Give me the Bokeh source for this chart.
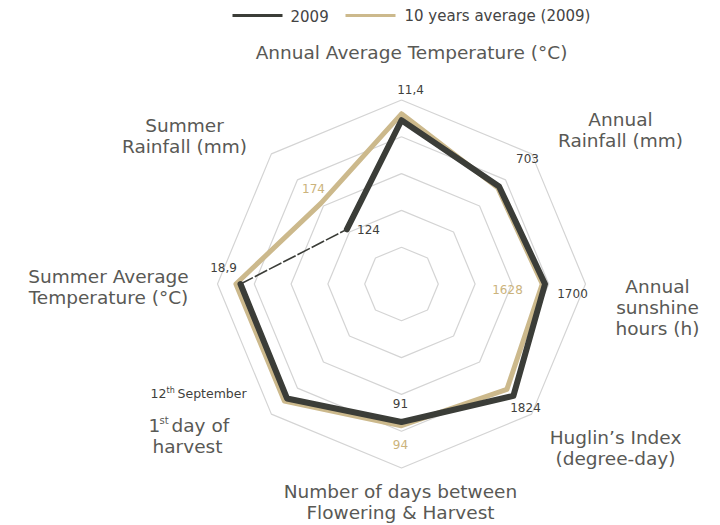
import math
from bokeh.plotting import figure
from bokeh.models import Range1d
from bokeh.core.properties import value
from bokeh.embed import file_html
from bokeh.resources import INLINE

# ---------------- data ----------------
axes_names = [
    "Annual Average Temperature (°C)",
    "Annual\nRainfall (mm)",
    "Annual\nsunshine\nhours (h)",
    "Huglin’s Index\n(degree-day)",
    "Number of days between\nFlowering & Harvest",
    "1st day of\nharvest",
    "Summer Average\nTemperature (°C)",
    "Summer\nRainfall (mm)",
]
# normalised position on each axis (0 = centre, 1 = outer ring)
series_2009 = [0.89, 0.75, 0.78, 0.86, 0.75, 0.88, 0.875, 0.42]
series_avg = [0.925, 0.74, 0.765, 0.81, 0.77, 0.90, 0.90, 0.62]
labels_2009 = ["11,4", "703", "1700", "1824", "91", "12th September", "18,9", "124"]
labels_avg = ["1628", "94", "174"]
legend_names = ["2009", "10 years average (2009)"]
n_rings = 5

# ---------------- layout ----------------
W, H = 720, 525
CX, CY = 401, 283.5   # picture coords of centre
R = 184.0
DARK = "#3b3d38"
GOLD = "#ccb98c"
TXT = "#595955"
VAL = "#3f3f3d"
GOLD_TXT = "#cbb37c"
FONT = "DejaVu Sans"
TFS = "18.5px"


def P(x, y):
    return x - CX, CY - y


def ang(i):
    return math.radians(90 - 45 * i)


p = figure(width=W, height=H, output_backend="svg", toolbar_location=None,
           x_range=Range1d(-CX, W - CX),
           y_range=Range1d(CY - H, CY),
           min_border=0)
p.axis.visible = False
p.grid.visible = False
p.outline_line_color = None
p.background_fill_color = "white"
p.border_fill_color = "white"


def txt(x, y, s, size, color, align="center", lh=1.0):
    tx, ty = P(x, y)
    p.text([tx], [ty], text=[s], text_align=align, text_baseline="middle",
           text_font=value(FONT), text_font_size=size, text_color=color,
           text_line_height=lh)


n = len(axes_names)
# grid rings
xs, ys = [], []
for k in range(1, n_rings + 1):
    r = R * k / n_rings
    xs.append([r * math.cos(ang(i)) for i in range(n)] + [r * math.cos(ang(0))])
    ys.append([r * math.sin(ang(i)) for i in range(n)] + [r * math.sin(ang(0))])
p.multi_line(xs, ys, line_color="#d4d4d4", line_width=1.2)


def pts(vals):
    return ([R * v * math.cos(ang(i)) for i, v in enumerate(vals)],
            [R * v * math.sin(ang(i)) for i, v in enumerate(vals)])


# average polygon (closed)
ax_, ay_ = pts(series_avg)
p.line(ax_ + [ax_[0]], ay_ + [ay_[0]], line_color=GOLD, line_width=5,
       line_join="round", line_cap="round")

# 2009 polygon: thick path 7->0->...->6, thin segment 6->7
dx_, dy_ = pts(series_2009)
order = [7, 0, 1, 2, 3, 4, 5, 6]
p.line([dx_[i] for i in order], [dy_[i] for i in order], line_color=DARK,
       line_width=6, line_join="round", line_cap="round")
p.line([dx_[6], dx_[7]], [dy_[6], dy_[7]], line_color=DARK, line_width=1.6,
       line_dash="14 2")

# axis titles
title_pos = [(411, 52), (620, 129), (657, 307), (615, 447), (400, 501),
             None, (108, 286), (184, 135)]
for name, pos in zip(axes_names, title_pos):
    if pos is None:
        continue
    txt(pos[0], pos[1], name, TFS, TXT)

# "1st day of / harvest" with superscript
txt(148, 425, "1", TFS, TXT, align="left")
txt(159, 420, "st", "10px", TXT, align="left")
txt(171, 425, "day of", TFS, TXT, align="left")
txt(187, 446, "harvest", TFS, TXT)

# value labels
val_pos_2009 = [(410, 89), (527, 158), (572, 293), (525, 407), (400, 403),
                None, (223, 267), (368, 229)]
for lab, pos in zip(labels_2009, val_pos_2009):
    if pos is None:
        continue
    txt(pos[0], pos[1], lab, "12px", VAL)

# "12th September"
txt(150, 393, "12", "12.5px", VAL, align="left")
txt(166, 390, "th", "8px", VAL, align="left")
txt(177, 393, "September", "12.5px", VAL, align="left")

val_pos_avg = [(507, 289), (400, 444), (313, 188)]
for lab, (x, y) in zip(labels_avg, val_pos_avg):
    txt(x, y, lab, "12px", GOLD_TXT)

# legend
for (x0, x1, tx0), col, name in zip([(232, 282, 290), (345, 395, 404)], [DARK, GOLD], legend_names):
    a, b = P(x0, 15)
    c, _ = P(x1, 15)
    p.line([a, c], [b, b], line_color=col, line_width=3)
    txt(tx0, 15, name, "15px", "#444444", align="left")

open("out.html", "w").write(file_html(p, INLINE))
